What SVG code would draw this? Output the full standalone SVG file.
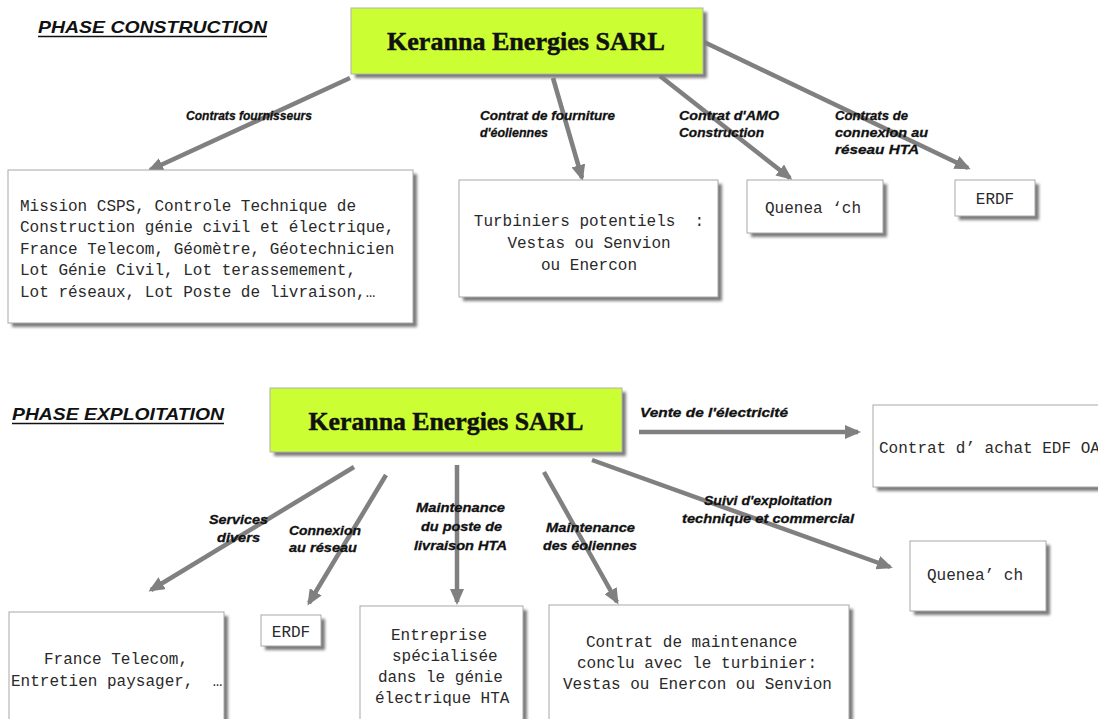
<svg xmlns="http://www.w3.org/2000/svg" width="1098" height="719" viewBox="0 0 1098 719">
<defs>
<filter id="sh" x="-10%" y="-10%" width="130%" height="140%">
<feGaussianBlur stdDeviation="1.5"/>
</filter>
<marker id="ah" markerUnits="userSpaceOnUse" markerWidth="16" markerHeight="14" refX="13" refY="7" orient="auto">
<path d="M0,0 L16,7 L0,14 z" fill="#808080"/>
</marker>
</defs>
<style>
.bg{fill:#ffffff}
.shadow{fill:#7a7a7a;filter:url(#sh)}
.box{fill:#ffffff;stroke:#a8a8a8;stroke-width:1}
.green{fill:#ccff33;stroke:#b0b0b0;stroke-width:1}
.title{font-family:"Liberation Serif",serif;font-weight:bold;font-size:26px;fill:#111;stroke:#111;stroke-width:0.5}
.phase{font-family:"Liberation Sans",Arial,sans-serif;font-weight:bold;font-style:italic;font-size:17px;fill:#111}
.ul{stroke:#111;stroke-width:1.5}
.lbl{font-family:"Liberation Sans",Arial,sans-serif;font-weight:bold;font-style:italic;font-size:13.5px;fill:#111;stroke:#111;stroke-width:0.3}
.mono{font-family:"Liberation Mono","Courier New",monospace;font-size:16px;fill:#2a2a2a;white-space:pre}
.arr{stroke:#808080;stroke-width:4.5;fill:none;marker-end:url(#ah)}
</style>
<rect class="bg" x="0" y="0" width="1098" height="719"/>

<!-- Phase labels -->
<g id="phase-construction">
<text class="phase" x="38" y="33" textLength="229" lengthAdjust="spacingAndGlyphs">PHASE CONSTRUCTION</text>
<line class="ul" x1="38" y1="36.5" x2="267" y2="36.5"/>
</g>
<g id="phase-exploitation">
<text class="phase" x="12" y="420" textLength="212" lengthAdjust="spacingAndGlyphs">PHASE EXPLOITATION</text>
<line class="ul" x1="12" y1="423.5" x2="224" y2="423.5"/>
</g>

<!-- Connectors -->
<g id="connectors">
<line class="arr" x1="350" y1="78" x2="150" y2="170"/>
<line class="arr" x1="553" y1="78" x2="582" y2="178"/>
<line class="arr" x1="660" y1="76" x2="790" y2="178"/>
<line class="arr" x1="704" y1="42" x2="968" y2="168"/>
<line class="arr" x1="639" y1="432" x2="858" y2="432"/>
<line class="arr" x1="354" y1="467" x2="151" y2="590"/>
<line class="arr" x1="386" y1="475" x2="309" y2="603"/>
<line class="arr" x1="457" y1="465" x2="457" y2="602"/>
<line class="arr" x1="544" y1="472" x2="617" y2="602"/>
<line class="arr" x1="592" y1="460" x2="890" y2="567"/>
<text class="lbl" x="186" y="120" textLength="126" lengthAdjust="spacingAndGlyphs">Contrats fournisseurs</text>
<text class="lbl" x="480" y="120" textLength="135" lengthAdjust="spacingAndGlyphs">Contrat de fourniture</text>
<text class="lbl" x="480" y="137" textLength="68" lengthAdjust="spacingAndGlyphs">d'éoliennes</text>
<text class="lbl" x="679" y="120" textLength="100" lengthAdjust="spacingAndGlyphs">Contrat d'AMO</text>
<text class="lbl" x="679" y="137" textLength="85" lengthAdjust="spacingAndGlyphs">Construction</text>
<text class="lbl" x="835" y="120" textLength="73" lengthAdjust="spacingAndGlyphs">Contrats de</text>
<text class="lbl" x="835" y="137" textLength="93" lengthAdjust="spacingAndGlyphs">connexion au</text>
<text class="lbl" x="835" y="154" textLength="84" lengthAdjust="spacingAndGlyphs">réseau HTA</text>
<text class="lbl" x="640" y="417" textLength="148" lengthAdjust="spacingAndGlyphs">Vente de l'électricité</text>
<text class="lbl" x="209" y="524" textLength="59" lengthAdjust="spacingAndGlyphs">Services</text>
<text class="lbl" x="217" y="542" textLength="43" lengthAdjust="spacingAndGlyphs">divers</text>
<text class="lbl" x="289" y="535" textLength="72" lengthAdjust="spacingAndGlyphs">Connexion</text>
<text class="lbl" x="289" y="552" textLength="68" lengthAdjust="spacingAndGlyphs">au réseau</text>
<text class="lbl" x="416" y="512" textLength="89" lengthAdjust="spacingAndGlyphs">Maintenance</text>
<text class="lbl" x="421" y="531" textLength="81" lengthAdjust="spacingAndGlyphs">du poste de</text>
<text class="lbl" x="414" y="550" textLength="93" lengthAdjust="spacingAndGlyphs">livraison HTA</text>
<text class="lbl" x="546" y="532" textLength="89" lengthAdjust="spacingAndGlyphs">Maintenance</text>
<text class="lbl" x="543" y="550" textLength="94" lengthAdjust="spacingAndGlyphs">des éoliennes</text>
<text class="lbl" x="704" y="505" textLength="128" lengthAdjust="spacingAndGlyphs">Suivi d'exploitation</text>
<text class="lbl" x="682" y="523" textLength="172" lengthAdjust="spacingAndGlyphs">technique et commercial</text>
</g>

<!-- Top section nodes -->
<g id="keranna-construction">
<rect class="shadow" x="355" y="12" width="352" height="66"/>
<rect class="green" x="351" y="8" width="352" height="66"/>
<text class="title" x="526" y="50" text-anchor="middle" textLength="278" lengthAdjust="spacingAndGlyphs">Keranna Energies SARL</text>
</g>
<g id="fournisseurs">
<rect class="shadow" x="12" y="174" width="405" height="153"/>
<rect class="box" x="8" y="170" width="405" height="153"/>
<text class="mono" x="20" y="211">Mission CSPS, Controle Technique de</text>
<text class="mono" x="20" y="232">Construction génie civil et électrique,</text>
<text class="mono" x="20" y="254">France Telecom, Géomètre, Géotechnicien</text>
<text class="mono" x="20" y="275">Lot Génie Civil, Lot terassemement,</text>
<text class="mono" x="20" y="297">Lot réseaux, Lot Poste de livraison,…</text>
</g>
<g id="turbiniers">
<rect class="shadow" x="463" y="184" width="259" height="117"/>
<rect class="box" x="459" y="180" width="259" height="117"/>
<text class="mono" x="589" y="226" text-anchor="middle">Turbiniers potentiels  :</text>
<text class="mono" x="589" y="248" text-anchor="middle">Vestas ou Senvion</text>
<text class="mono" x="589" y="270" text-anchor="middle">ou Enercon</text>
</g>
<g id="quenea-construction">
<rect class="shadow" x="751" y="184" width="136" height="53"/>
<rect class="box" x="747" y="180" width="136" height="53"/>
<text class="mono" x="765" y="213">Quenea ‘ch</text>
</g>
<g id="erdf-construction">
<rect class="shadow" x="959" y="184" width="80" height="36"/>
<rect class="box" x="955" y="180" width="80" height="36"/>
<text class="mono" x="995" y="204" text-anchor="middle">ERDF</text>
</g>

<!-- Bottom section nodes -->
<g id="keranna-exploitation">
<rect class="shadow" x="274" y="392" width="352" height="64"/>
<rect class="green" x="270" y="388" width="352" height="64"/>
<text class="title" x="446" y="430" text-anchor="middle" textLength="275" lengthAdjust="spacingAndGlyphs">Keranna Energies SARL</text>
</g>
<g id="contrat-achat">
<rect class="shadow" x="877" y="409" width="240" height="82"/>
<rect class="box" x="873" y="405" width="240" height="82"/>
<text class="mono" x="879" y="453">Contrat d’<tspan dx="9.6">achat EDF OA</tspan></text>
</g>
<g id="quenea-exploitation">
<rect class="shadow" x="914" y="545" width="136" height="70"/>
<rect class="box" x="910" y="541" width="136" height="70"/>
<text class="mono" x="927" y="580">Quenea’<tspan dx="9.6">ch</tspan></text>
</g>
<g id="services">
<rect class="shadow" x="13" y="616" width="215" height="120"/>
<rect class="box" x="9" y="612" width="215" height="120"/>
<text class="mono" x="44" y="664">France Telecom,</text>
<text class="mono" x="11" y="686">Entretien paysager, <tspan dx="9.6">…</tspan></text>
</g>
<g id="erdf-exploitation">
<rect class="shadow" x="265" y="619" width="60" height="31"/>
<rect class="box" x="261" y="615" width="60" height="31"/>
<text class="mono" x="291" y="637" text-anchor="middle">ERDF</text>
</g>
<g id="entreprise">
<rect class="shadow" x="364" y="610" width="163" height="120"/>
<rect class="box" x="360" y="606" width="163" height="120"/>
<text class="mono" x="391" y="640">Entreprise</text>
<text class="mono" x="392" y="661">spécialisée</text>
<text class="mono" x="378" y="682">dans le génie</text>
<text class="mono" x="375" y="703">électrique HTA</text>
</g>
<g id="maintenance">
<rect class="shadow" x="553" y="609" width="300" height="120"/>
<rect class="box" x="549" y="605" width="300" height="120"/>
<text class="mono" x="586" y="647">Contrat de maintenance</text>
<text class="mono" x="577" y="668">conclu avec le turbinier:</text>
<text class="mono" x="563" y="689">Vestas ou Enercon ou Senvion</text>
</g>
</svg>
